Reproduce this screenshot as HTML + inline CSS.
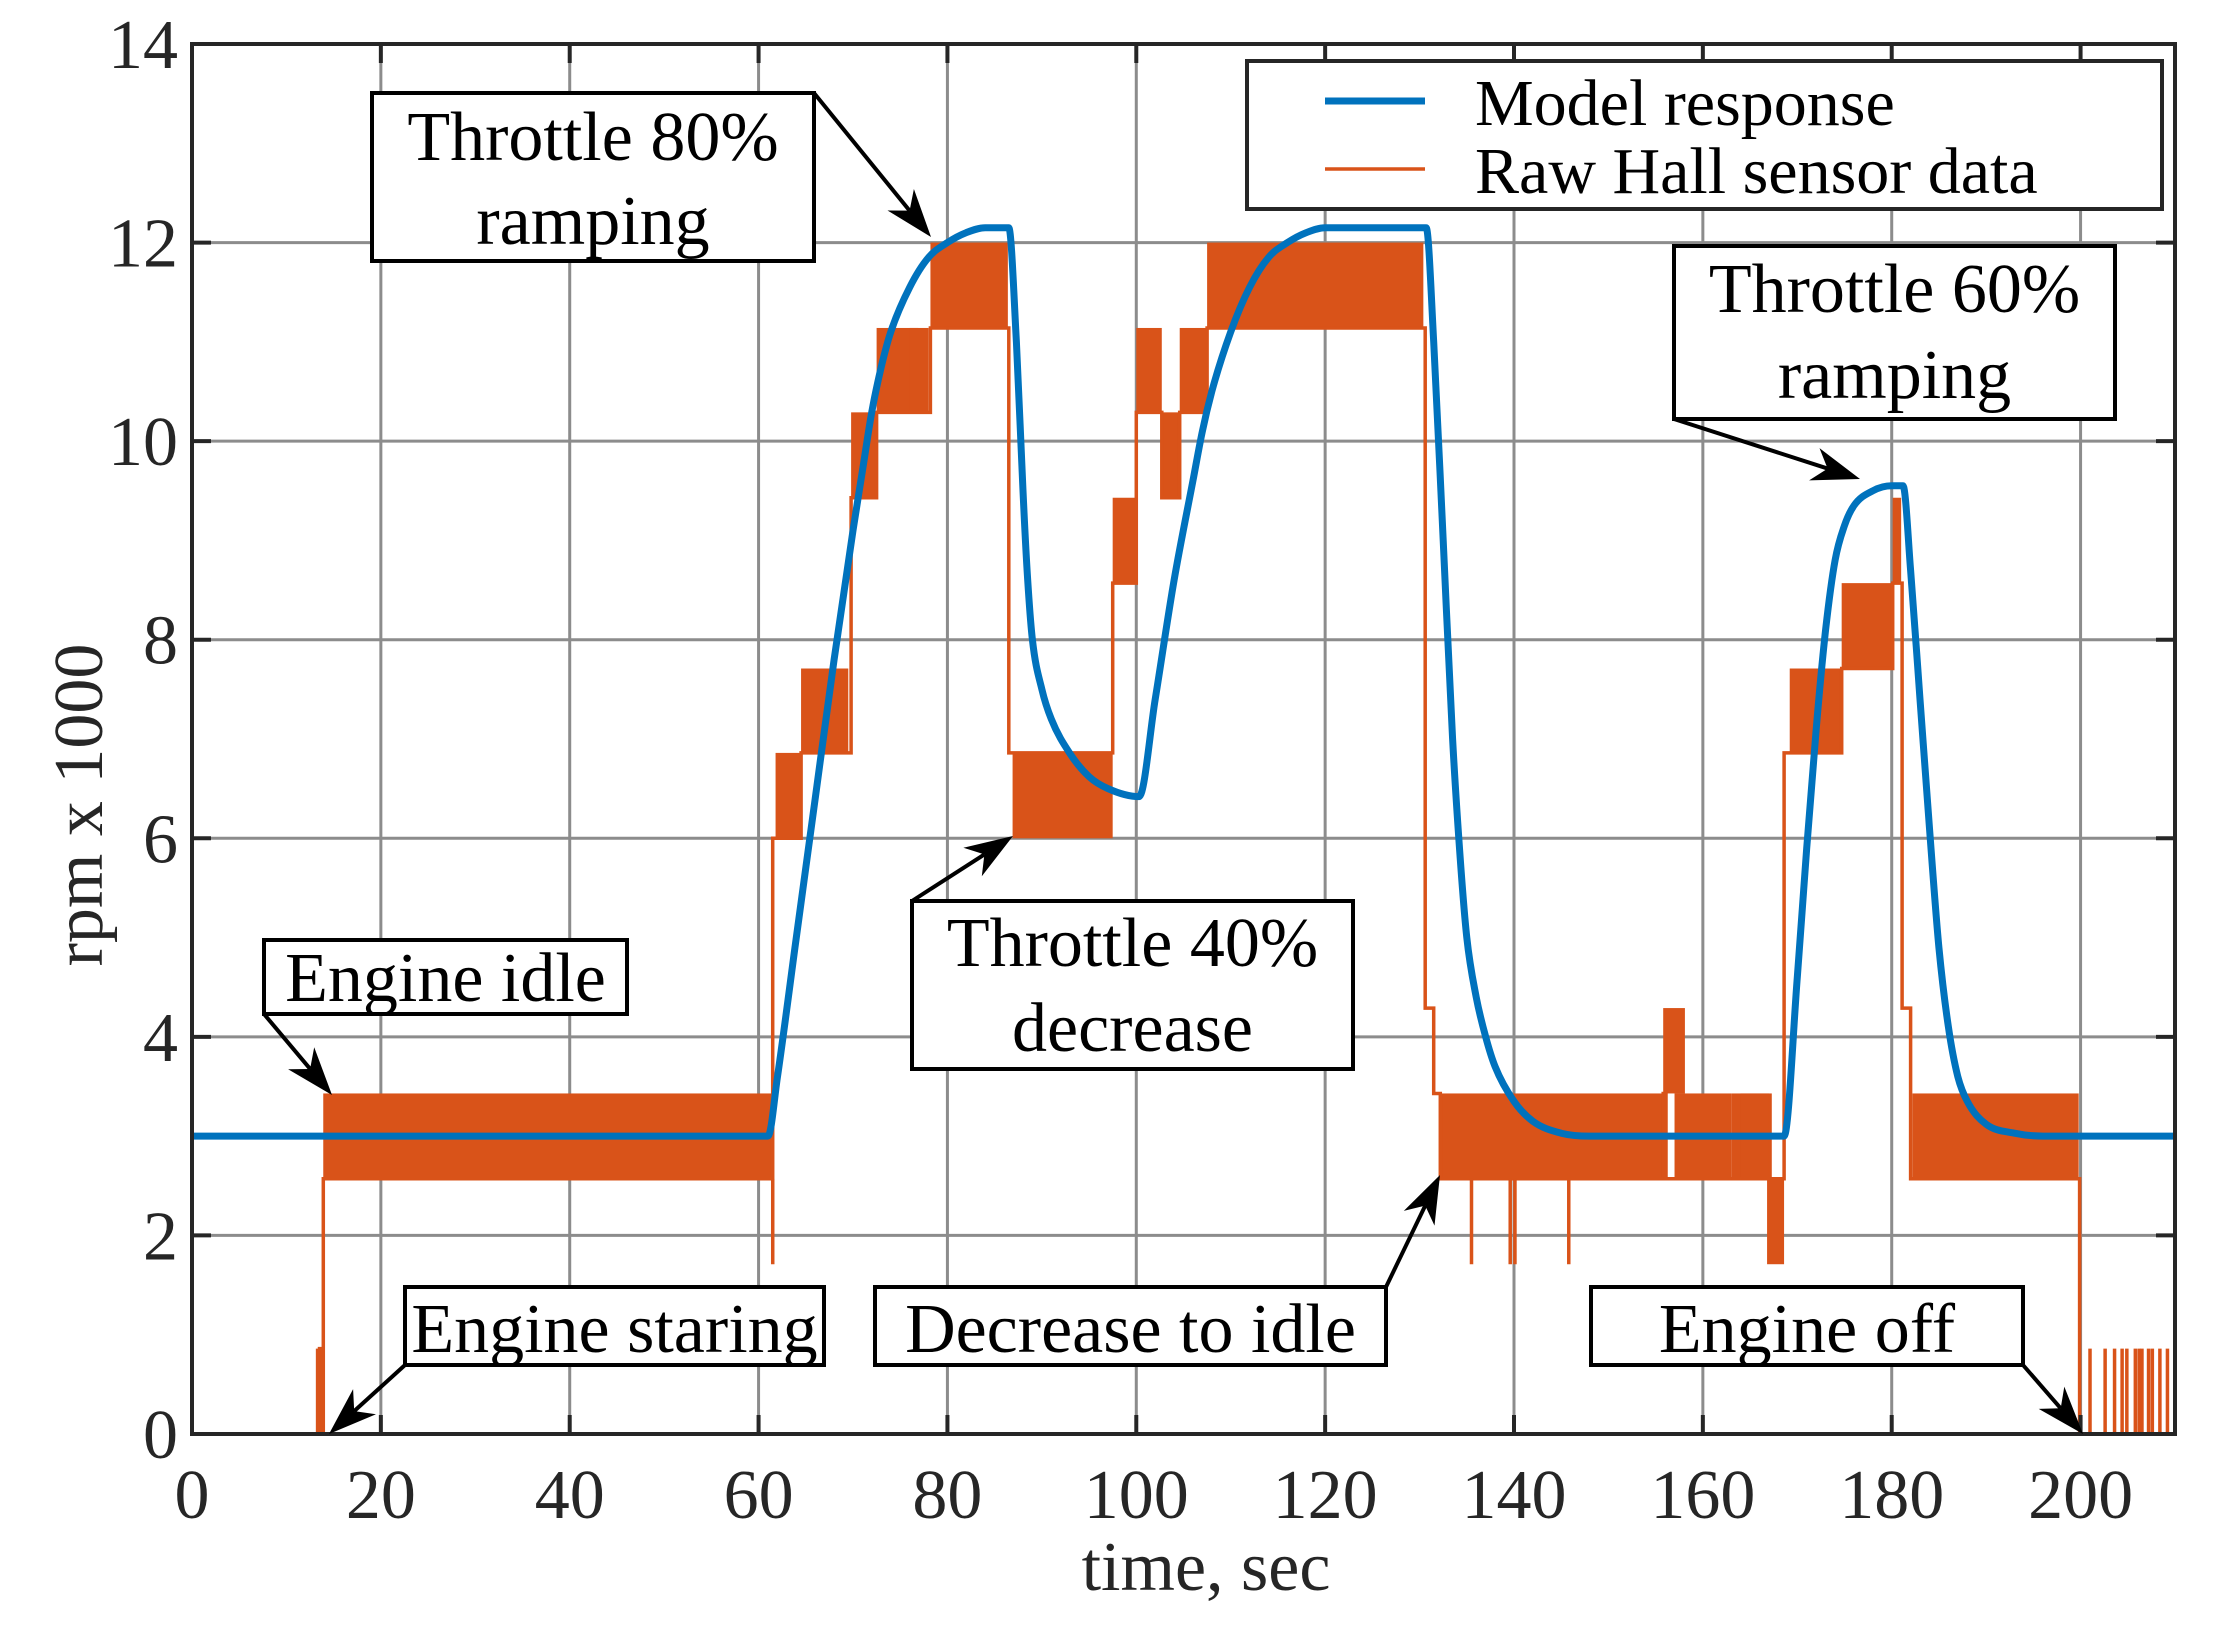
<!DOCTYPE html>
<html><head><meta charset="utf-8"><title>rpm chart</title>
<style>
html,body{margin:0;padding:0;background:#fff;}
svg{display:block;}
text{font-family:"Liberation Serif","Times New Roman",serif;fill:#262626;}
</style></head>
<body>
<svg id="chart" width="2217" height="1639" viewBox="0 0 2217 1639" xmlns="http://www.w3.org/2000/svg">
<rect x="0" y="0" width="2217" height="1639" fill="#fff"/>
<g id="grid"></g>
<g id="raw"></g>
<g id="model"></g>
<g id="axes"></g>
<g id="ann"></g>
<g id="legend"></g>
</svg>
<script>
const xTicks = [0,20,40,60,80,100,120,140,160,180,200];
const yTicks = [0,2,4,6,8,10,12,14];
const modelT = [0,61,62,64,66,68,70,71,72,73,74,76,78,80,82,84,86.5,87.3,88,88.5,89,90,91,93,95,97,100.3,102,104,106,107,108,110,112,114,116,118,120,130.7,131.5,132.5,133.5,134.3,135,136,137,138,140,142,145,148,168.6,170,171,172,173,174,175,176,178,180,181.2,182,183,184,185,186,187,188,190,193,196,210];
const modelV = [3,3,3.6,5,6.4,7.8,9.1,9.7,10.3,10.75,11.1,11.55,11.85,12.0,12.1,12.15,12.15,11,9.5,8.6,8.0,7.5,7.2,6.85,6.62,6.5,6.42,7.4,8.6,9.6,10.1,10.5,11.1,11.55,11.85,12.0,12.1,12.15,12.15,11,9,7,5.8,5.0,4.4,4.0,3.7,3.35,3.15,3.03,3.0,3.0,4.6,5.9,7.1,8.1,8.8,9.15,9.35,9.5,9.55,9.55,8.7,7.4,6.1,4.9,4.1,3.6,3.35,3.12,3.03,3.0,3.0];
const bandStart = [13.9,61.8,64.5,69.8,72.5,76.0,78.2,86.9,97.5,100.0,102.7,104.6,107.5,132.2,155.8,157.0,163.0,166.8,164.0,169.2,174.7,180.1,182.2];
const bandEnd   = [61.5,64.5,69.5,72.5,76.9,78.0,86.4,97.5,99.9,102.7,104.6,107.5,130.4,156.1,158.1,163.0,167.3,168.6,167.0,174.7,180.1,181.0,199.8];
const bandLo    = [2.57,6.0,6.86,9.43,10.29,10.29,11.14,6.0,8.57,10.29,9.43,10.29,11.14,2.57,3.43,2.57,2.57,1.71,2.57,6.86,7.71,8.57,2.57];
const bandHi    = [3.43,6.86,7.71,10.29,11.14,11.14,12.0,6.86,9.43,11.14,10.29,11.14,12.0,3.43,4.29,3.43,3.43,2.57,3.43,7.71,8.57,9.43,3.43];
// step-after samples of the raw signal's lower envelope
const rawT = [0,13.5,13.6,13.9,61.5,61.6,64.5,69.8,72.5,78.2,86.5,97.5,100.0,102.7,104.6,107.5,130.6,131.5,132.2,155.8,156.1,168.6,174.7,180.1,181.1,182.0,199.9,210];
const rawV = [0,0.86,0,2.57,6.0,6.0,6.86,9.43,10.29,11.14,6.86,8.57,10.29,9.43,10.29,11.14,4.29,3.43,2.57,3.43,2.57,6.86,7.71,8.57,4.29,2.57,0,0];
const spikeT  = [13.3,61.5,135.5,139.6,140.1,145.8,201,202.6,203.6,204.4,204.9,205.8,206.2,206.5,207.2,207.6,208.4,209.2];
const spikeLo = [0,1.71,1.71,1.71,1.71,1.71,0,0,0,0,0,0,0,0,0,0,0,0];
const spikeHi = [0.86,2.57,2.57,2.57,2.57,2.57,0.86,0.86,0.86,0.86,0.86,0.86,0.86,0.86,0.86,0.86,0.86,0.86];

const NS='http://www.w3.org/2000/svg';
const L=192,R=2175,T=44,B=1434,XMAX=210,YMAX=14;
function X(t){return L+(t/XMAX)*(R-L);}
function Y(v){return B-(v/YMAX)*(B-T);}
function mk(tag,attrs,parent){const e=document.createElementNS(NS,tag);for(const k in attrs)e.setAttribute(k,attrs[k]);parent.appendChild(e);return e;}
const grid=document.getElementById('grid'),axes=document.getElementById('axes'),raw=document.getElementById('raw'),model=document.getElementById('model'),ann=document.getElementById('ann'),leg=document.getElementById('legend');

xTicks.forEach(t=>{
  const g=mk('line',{x1:X(t),x2:X(t),y1:T,y2:B,stroke:'#8c8c8c','stroke-width':3},grid);
  
  
  const tk=mk('line',{x1:X(t),x2:X(t),y1:B,y2:B-19,stroke:'#262626','stroke-width':4},axes);
  
  
  const tk2=mk('line',{x1:X(t),x2:X(t),y1:T,y2:T+19,stroke:'#262626','stroke-width':4},axes);
  
  
  const lb=mk('text',{x:X(t),y:1518,'text-anchor':'middle','font-size':70},axes);
  lb.textContent=t;
  
  
});
yTicks.forEach(v=>{
  const g=mk('line',{x1:L,x2:R,y1:Y(v),y2:Y(v),stroke:'#8c8c8c','stroke-width':3},grid);
  
  
  const tk=mk('line',{x1:L,x2:L+19,y1:Y(v),y2:Y(v),stroke:'#262626','stroke-width':4},axes);
  
  
  const tk2=mk('line',{x1:R,x2:R-19,y1:Y(v),y2:Y(v),stroke:'#262626','stroke-width':4},axes);
  
  
  const lb=mk('text',{x:178,y:Y(v)+24,'text-anchor':'end','font-size':70},axes);
  lb.textContent=v;
  
  
});
const frame=mk('rect',{x:L,y:T,width:R-L,height:B-T,fill:'none',stroke:'#262626','stroke-width':4},axes);


const xl=mk('text',{x:1206,y:1590,'text-anchor':'middle','font-size':70},axes);
xl.textContent='time, sec';


const yl=mk('text',{x:0,y:0,'text-anchor':'middle','font-size':70,transform:'translate(102,805) rotate(-90)'},axes);
yl.textContent='rpm x 1000';



const ORANGE='#D95319',BLUE='#0072BD';
for(let i=0;i<bandStart.length;i++){
  const r=mk('rect',{x:X(bandStart[i]),y:Y(bandHi[i]),width:X(bandEnd[i])-X(bandStart[i]),height:Y(bandLo[i])-Y(bandHi[i]),fill:ORANGE},raw);
  
  
}
let d='M'+X(rawT[0]).toFixed(1)+' '+Y(rawV[0]).toFixed(1);
for(let i=1;i<rawT.length;i++){d+='H'+X(rawT[i]).toFixed(1)+'V'+Y(rawV[i]).toFixed(1);}
const rl=mk('path',{d:d,fill:'none',stroke:ORANGE,'stroke-width':3.5},raw);


for(let i=0;i<spikeT.length;i++){
  const s=mk('line',{x1:X(spikeT[i]),x2:X(spikeT[i]),y1:Y(spikeLo[i]),y2:Y(spikeHi[i]),stroke:ORANGE,'stroke-width':3.5},raw);
  
  
}
// monotone cubic (Fritsch-Carlson) through model points
function monotone(xs,ys){
  const n=xs.length,dl=[],m=new Array(n);
  for(let i=0;i<n-1;i++)dl.push((ys[i+1]-ys[i])/(xs[i+1]-xs[i]));
  m[0]=dl[0];m[n-1]=dl[n-2];
  for(let i=1;i<n-1;i++){m[i]=(dl[i-1]*dl[i]<=0)?0:(dl[i-1]+dl[i])/2;}
  for(let i=0;i<n-1;i++){
    if(dl[i]===0){m[i]=0;m[i+1]=0;continue;}
    const a=m[i]/dl[i],b=m[i+1]/dl[i],s=a*a+b*b;
    if(s>9){const t=3/Math.sqrt(s);m[i]=t*a*dl[i];m[i+1]=t*b*dl[i];}
  }
  let p='M'+X(xs[0]).toFixed(1)+' '+Y(ys[0]).toFixed(1);
  for(let i=0;i<n-1;i++){
    const h=xs[i+1]-xs[i];
    p+='C'+X(xs[i]+h/3).toFixed(1)+' '+Y(ys[i]+m[i]*h/3).toFixed(1)+' '+X(xs[i+1]-h/3).toFixed(1)+' '+Y(ys[i+1]-m[i+1]*h/3).toFixed(1)+' '+X(xs[i+1]).toFixed(1)+' '+Y(ys[i+1]).toFixed(1);
  }
  return p;
}
const ml=mk('path',{d:monotone(modelT,modelV),fill:'none',stroke:BLUE,'stroke-width':7,'stroke-linejoin':'round'},model);



function arrow(x1,y1,x2,y2,name){
  const g=mk('g',{},ann);
  
  
  const dx=x2-x1,dy=y2-y1,len=Math.hypot(dx,dy),ux=dx/len,uy=dy/len,px=-uy,py=ux;
  const hl=48,hw=17,nb=34;
  mk('line',{x1:x1,y1:y1,x2:x2-ux*nb,y2:y2-uy*nb,stroke:'#000','stroke-width':4},g);
  const p=[[x2,y2],[x2-ux*hl+px*hw,y2-uy*hl+py*hw],[x2-ux*nb,y2-uy*nb],[x2-ux*hl-px*hw,y2-uy*hl-py*hw]];
  mk('polygon',{points:p.map(q=>q[0].toFixed(1)+','+q[1].toFixed(1)).join(' '),fill:'#000'},g);
}
function box(x1,y1,x2,y2,lines,bases,name){
  const g=mk('g',{},ann);
  
  
  mk('rect',{x:x1,y:y1,width:x2-x1,height:y2-y1,fill:'#fff',stroke:'#000','stroke-width':4},g);
  lines.forEach((s,i)=>{const t=mk('text',{x:(x1+x2)/2,y:bases[i],'text-anchor':'middle','font-size':70,style:'fill:#000'},g);t.textContent=s;});
}
arrow(814,93,931,237,'arrow-throttle-80');
box(372,93,814,261,['Throttle 80%','ramping'],[160,244],'annotation-throttle-80');
arrow(1674,419,1860,479,'arrow-throttle-60');
box(1674,246,2115,419,['Throttle 60%','ramping'],[312,398],'annotation-throttle-60');
arrow(912,901,1013,836,'arrow-throttle-40');
box(912,901,1353,1069,['Throttle 40%','decrease'],[966,1051],'annotation-throttle-40');
arrow(264,1014,332,1095,'arrow-engine-idle');
box(264,940,627,1014,['Engine idle'],[1001],'annotation-engine-idle');
arrow(405,1365,329,1434,'arrow-engine-starting');
box(405,1287,824,1365,['Engine staring'],[1352],'annotation-engine-starting');
arrow(1386,1287,1440,1175,'arrow-decrease-idle');
box(875,1287,1386,1365,['Decrease to idle'],[1352],'annotation-decrease-idle');
arrow(2023,1365,2083,1434,'arrow-engine-off');
box(1591,1287,2023,1365,['Engine off'],[1352],'annotation-engine-off');

const lb=mk('rect',{x:1247,y:61,width:915,height:148,fill:'#fff',stroke:'#262626','stroke-width':4},leg);


const l1=mk('line',{x1:1325,x2:1425,y1:101,y2:101,stroke:BLUE,'stroke-width':7},leg);


const t1=mk('text',{x:1475,y:125,'font-size':66,style:'fill:#000'},leg);
t1.textContent='Model response';


const l2=mk('line',{x1:1325,x2:1425,y1:169,y2:169,stroke:ORANGE,'stroke-width':3.5},leg);


const t2=mk('text',{x:1475,y:193,'font-size':66,style:'fill:#000'},leg);
t2.textContent='Raw Hall sensor data';


</script>
</body></html>
